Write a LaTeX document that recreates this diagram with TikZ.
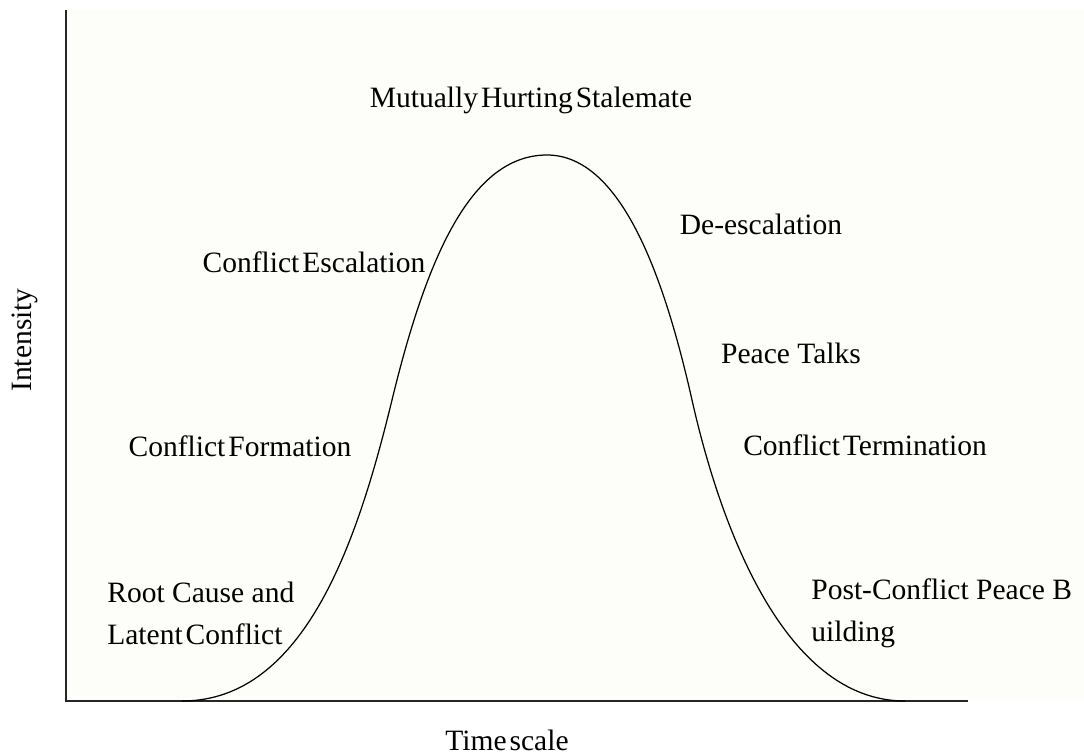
\documentclass[tikz,border=0pt]{standalone}
\usepackage{fontspec}
\setmainfont{Liberation Serif}
\usepackage{tikz}
\usetikzlibrary{positioning}
\definecolor{paper}{RGB}{253,253,249}
\newcommand\tightsp{\spaceskip=0.1em\relax}

\begin{document}
\begin{tikzpicture}[
     x = 0.02cm, y = -0.02cm,
   lbl/.style = {inner sep=0pt, font=\fontsize{16.8}{23.8}\selectfont},
 tight/.style = {lbl, font=\fontsize{16.8}{23.8}\selectfont\tightsp},
  plbl/.style = {lbl, align=left, anchor=west},
  axis/.style = {line width=1.1pt, draw=black!85},
  bell/.style = {line width=0.7pt}
                        ]
\useasboundingbox (0,0) rectangle (1084,754);
\fill[paper] (66,10) rectangle (1084,701);
\coordinate (top) at (66,10);
\coordinate (origin) at (66,701);
\coordinate (right) at (968,701);
\coordinate (start) at (182,701);
\coordinate (risen) at (392,400);
\coordinate (crest) at (547,155);
\coordinate (fallen) at (692,400);
\coordinate (stop) at (905,701);
\draw[axis] (top) -- (origin) -- (right);
% the bell
\draw[bell] (start) .. controls (305,701) and (358,540) .. (risen)
                    .. controls (426,260) and (470,155) .. (crest)
                    .. controls (622,155) and (665,280) .. (fallen)
                    .. controls (719,520) and (782,701) .. (stop);
\node (peak)  [tight] at (531,100) {Mutually Hurting Stalemate};
\node (desc)  [lbl] at (761,224) {De-escalation};
\node (esc)   [tight] at (314,262) {Conflict Escalation};
\node (talks) [lbl] at (791,353) {Peace Talks};
\node (form)  [tight] at (240,446) {Conflict Formation};
\node (term)  [tight] at (865,445) {Conflict Termination};
\node (root)  [plbl] at (107,613) {Root Cause and\\{\tightsp Latent Conflict}};
\node (post)  [plbl] at (811,613) {Post-Conflict Peace B\\uilding};
\node (time)  [tight] at (507,740) {Time scale};
\node (inten) [lbl, rotate=90] at (25,340) {Intensity};
\end{tikzpicture}
\end{document}
